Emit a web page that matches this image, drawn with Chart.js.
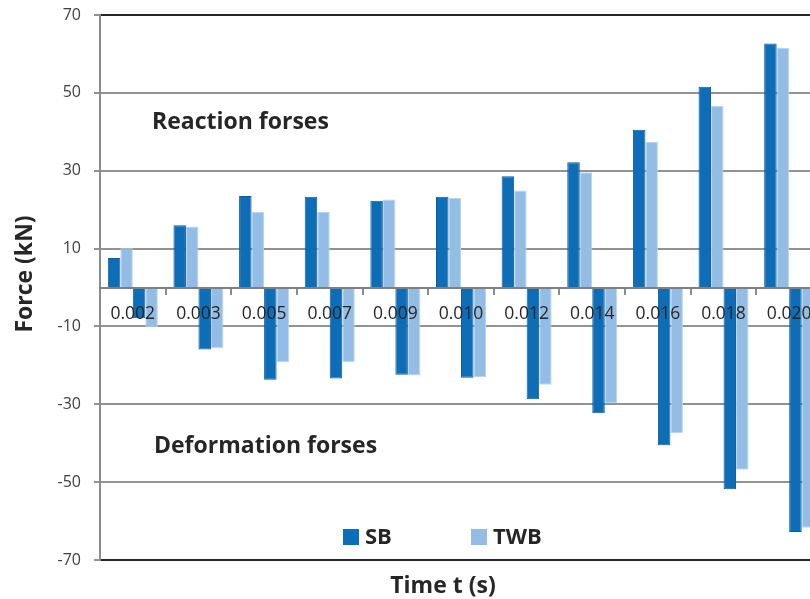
<!DOCTYPE html>
<html>
<head>
<meta charset="utf-8">
<script src="https://cdn.jsdelivr.net/npm/chart.js@4.4.1/dist/chart.umd.min.js"></script>
<style>
  html, body { margin: 0; padding: 0; background: #ffffff; overflow: hidden; width: 810px; height: 599px; }
  #wrap { position: relative; width: 830px; height: 599px; }
</style>
</head>
<body>
<div id="wrap"><canvas id="chart"></canvas></div>
<script>
// Time steps (s)
const categories = ['0.002', '0.003', '0.005', '0.007', '0.009', '0.010', '0.012', '0.014', '0.016', '0.018', '0.020'];

// Reaction forces (kN), positive side
const sbReaction  = [7.6, 16.0, 23.5, 23.3, 22.3, 23.3, 28.6, 32.2, 40.5, 51.6, 62.7];
const twbReaction = [10.1, 15.7, 19.4, 19.4, 22.6, 23.0, 24.9, 29.6, 37.4, 46.6, 61.6];

// Deformation forces (kN), negative side
const sbDeformation  = [-7.9, -15.9, -23.7, -23.4, -22.4, -23.2, -28.7, -32.3, -40.5, -51.8, -62.8];
const twbDeformation = [-10.2, -15.6, -19.2, -19.2, -22.6, -23.0, -25.0, -29.7, -37.4, -46.8, -61.7];

// Force axis tick values
const yTicks = [-70, -50, -30, -10, 10, 30, 50, 70];

const SB_FILL = '#0d6db6';
const SB_EDGE = '#0a5d9e';
const TWB_FILL = '#93bde4';
const TWB_EDGE = '#b7d4ef';
const FONT = "'Open Sans', 'DejaVu Sans', sans-serif";

// Text labels, legend and axis titles drawn on top of the plot
const overlay = {
  id: 'overlay',
  afterDraw(chart) {
    const ctx = chart.ctx;
    ctx.save();
    ctx.fillStyle = '#262626';
    ctx.textBaseline = 'middle';
    ctx.textAlign = 'left';
    ctx.font = `bold 23px ${FONT}`;
    ctx.fillText('Reaction forses', 152, 122);
    ctx.fillText('Deformation forses', 154, 446);

    // legend
    const items = [
      { label: 'SB', fill: SB_FILL, x: 343 },
      { label: 'TWB', fill: TWB_FILL, x: 471 }
    ];
    ctx.font = `bold 22px ${FONT}`;
    items.forEach(it => {
      ctx.fillStyle = it.fill;
      ctx.fillRect(it.x, 529, 16, 16);
      ctx.fillStyle = '#262626';
      ctx.fillText(it.label, it.x + 22, 538);
    });

    // axis titles
    ctx.font = `bold 23px ${FONT}`;
    ctx.textAlign = 'center';
    ctx.textBaseline = 'alphabetic';
    ctx.fillText('Time t (s)', 443, 593);

    ctx.translate(32, 274);
    ctx.rotate(-Math.PI / 2);
    ctx.fillText('Force (kN)', 0, 0);
    ctx.restore();
  }
};

const barStyle = (fill, edge) => ({
  backgroundColor: fill,
  borderColor: edge,
  borderWidth: 1,
  barPercentage: 1.0,
  categoryPercentage: 0.762
});

new Chart(document.getElementById('chart'), {
  type: 'bar',
  data: {
    labels: categories,
    datasets: [
      Object.assign({ label: 'SB',  data: sbReaction },     barStyle(SB_FILL, SB_EDGE)),
      Object.assign({ label: 'TWB', data: twbReaction },    barStyle(TWB_FILL, TWB_EDGE)),
      Object.assign({ label: 'SB',  data: sbDeformation },  barStyle(SB_FILL, SB_EDGE)),
      Object.assign({ label: 'TWB', data: twbDeformation }, barStyle(TWB_FILL, TWB_EDGE))
    ]
  },
  options: {
    responsive: true,
    maintainAspectRatio: false,
    animation: false,
    layout: { padding: { left: 0, right: 8, top: 15, bottom: 39 } },
    plugins: {
      legend: { display: false },
      tooltip: { enabled: false },
      title: { display: false }
    },
    scales: {
      x: {
        type: 'category',
        position: { y: 0 },
        offset: true,
        grid: {
          offset: true,
          drawOnChartArea: false,
          drawTicks: true,
          tickLength: 6,
          color: '#8c8c8c',
          lineWidth: 2,
          z: 1
        },
        border: { display: true, color: '#7f7f7f', width: 2, z: 1 },
        ticks: {
          z: 2,
          autoSkip: false,
          maxRotation: 0,
          padding: 10,
          color: '#262626',
          font: { family: FONT, size: 17.5 }
        }
      },
      y: {
        min: -70,
        max: 70,
        afterBuildTicks: s => { s.ticks = yTicks.map(v => ({ value: v })); },
        afterFit: s => { s.width = 100; s.paddingTop = 0; s.paddingBottom = 0; },
        grid: {
          color: c => (c.tick && Math.abs(c.tick.value) === 70) ? '#262626' : '#929292',
          tickColor: '#929292',
          lineWidth: 2,
          tickLength: 6
        },
        border: { display: true, color: '#8c8c8c', width: 2 },
        ticks: {
          padding: 13,
          color: '#404040',
          font: { family: FONT, size: 16 }
        }
      }
    }
  },
  plugins: [overlay]
});
</script>
</body>
</html>
